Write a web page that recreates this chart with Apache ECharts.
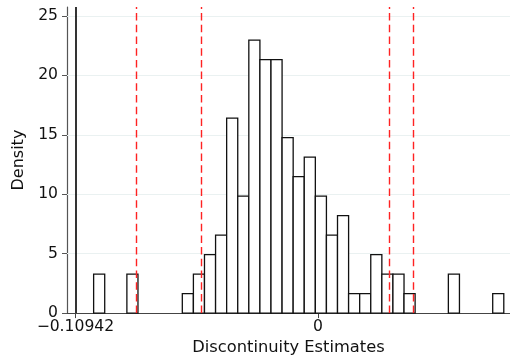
<!DOCTYPE html>
<html><head><meta charset="utf-8">
<script src="https://cdn.jsdelivr.net/npm/echarts@6/dist/echarts.min.js"></script>
<style>html,body{margin:0;padding:0;background:#fff}#c{width:510px;height:361px}</style>
</head><body><div id="c"></div>
<script>
// Histogram bins (left edge, data units) and densities
const binWidth = 0.005;
const binLefts = [-0.1012, -0.0862, -0.0612, -0.0562, -0.0512, -0.0462, -0.0412, -0.0362, -0.0312, -0.0262,
  -0.0212, -0.0162, -0.0112, -0.0062, -0.0012, 0.0038, 0.0088, 0.0138, 0.0188, 0.0238,
  0.0288, 0.0338, 0.0388, 0.0588, 0.0788];
const densities = [3.28, 3.28, 1.64, 3.28, 4.92, 6.56, 16.4, 9.84, 22.96, 21.32,
  21.32, 14.76, 11.48, 13.12, 9.84, 6.56, 8.2, 1.64, 1.64, 4.92,
  3.28, 3.28, 1.64, 3.28, 1.64];
const solidLine = -0.10942;
const dashedLines = [-0.0822, -0.0525, 0.0320, 0.0428];
const xTicks = [-0.10942, 0];
const xTickLabels = ['\u22120.10942', '0'];
const yTicks = [0, 5, 10, 15, 20, 25];

const FONT = 'DejaVu Sans';
const chart = echarts.init(document.getElementById('c'), null, {renderer: 'canvas'});
const data = binLefts.map((l, i) => [l, l + binWidth, densities[i]]);
chart.setOption({
  animation: false,
  grid: {left: 67, right: 0, top: 7, bottom: 44, containLabel: false},
  xAxis: {
    type: 'value', min: -0.11321, max: 0.0866,
    name: 'Discontinuity Estimates', nameLocation: 'middle', nameGap: 24,
    nameTextStyle: {fontFamily: FONT, fontSize: 16.3, color: '#111'},
    axisLine: {show: true, onZero: false, lineStyle: {color: '#444', width: 1.2}},
    axisTick: {show: true, length: 5, customValues: xTicks, lineStyle: {color: '#444'}},
    axisLabel: {customValues: xTicks, margin: 6, fontFamily: FONT, fontSize: 15.6, color: '#111',
      formatter: v => { const i = xTicks.findIndex(t => Math.abs(t - v) < 1e-9); return i >= 0 ? xTickLabels[i] : ''; }},
    splitLine: {show: false}
  },
  yAxis: {
    type: 'value', min: 0, max: 25.75,
    name: 'Density', nameLocation: 'middle', nameGap: 40,
    nameTextStyle: {fontFamily: FONT, fontSize: 16, color: '#111'},
    axisLine: {show: true, onZero: false, lineStyle: {color: '#555', width: 1.2}},
    axisTick: {show: true, length: 5, customValues: yTicks, lineStyle: {color: '#555'}},
    axisLabel: {customValues: yTicks, margin: 9, fontFamily: FONT, fontSize: 15.6, color: '#111'},
    splitLine: {show: false}
  },
  series: [{
    type: 'custom',
    data: data,
    encode: {x: [0, 1], y: 2},
    renderItem: function (params, api) {
      const p0 = api.coord([api.value(0), api.value(2)]);
      const p1 = api.coord([api.value(1), 0]);
      return {type: 'rect', shape: {x: p0[0], y: p0[1], width: p1[0] - p0[0], height: p1[1] - p0[1]},
        style: {fill: '#fff', stroke: '#111', lineWidth: 1.3}};
    },
    z: 3,
    markLine: {
      silent: true, symbol: 'none', label: {show: false}, animation: false, precision: 6,
      data: yTicks.filter(v => v > 0).map(v => ({yAxis: v, lineStyle: {color: '#eaf1f1', width: 1.2, type: 'solid'}})),
      z: 1
    }
  }, {
    type: 'line', data: [], z: 5,
    markLine: {
      silent: true, symbol: 'none', label: {show: false}, animation: false, precision: 6,
      data: [{xAxis: solidLine, lineStyle: {color: '#000', width: 1.6, type: 'solid'}}]
        .concat(dashedLines.map(v => ({xAxis: v, lineStyle: {color: '#f22', width: 1.4, type: [7.5, 4.2]}})))
    }
  }]
});
</script></body></html>
